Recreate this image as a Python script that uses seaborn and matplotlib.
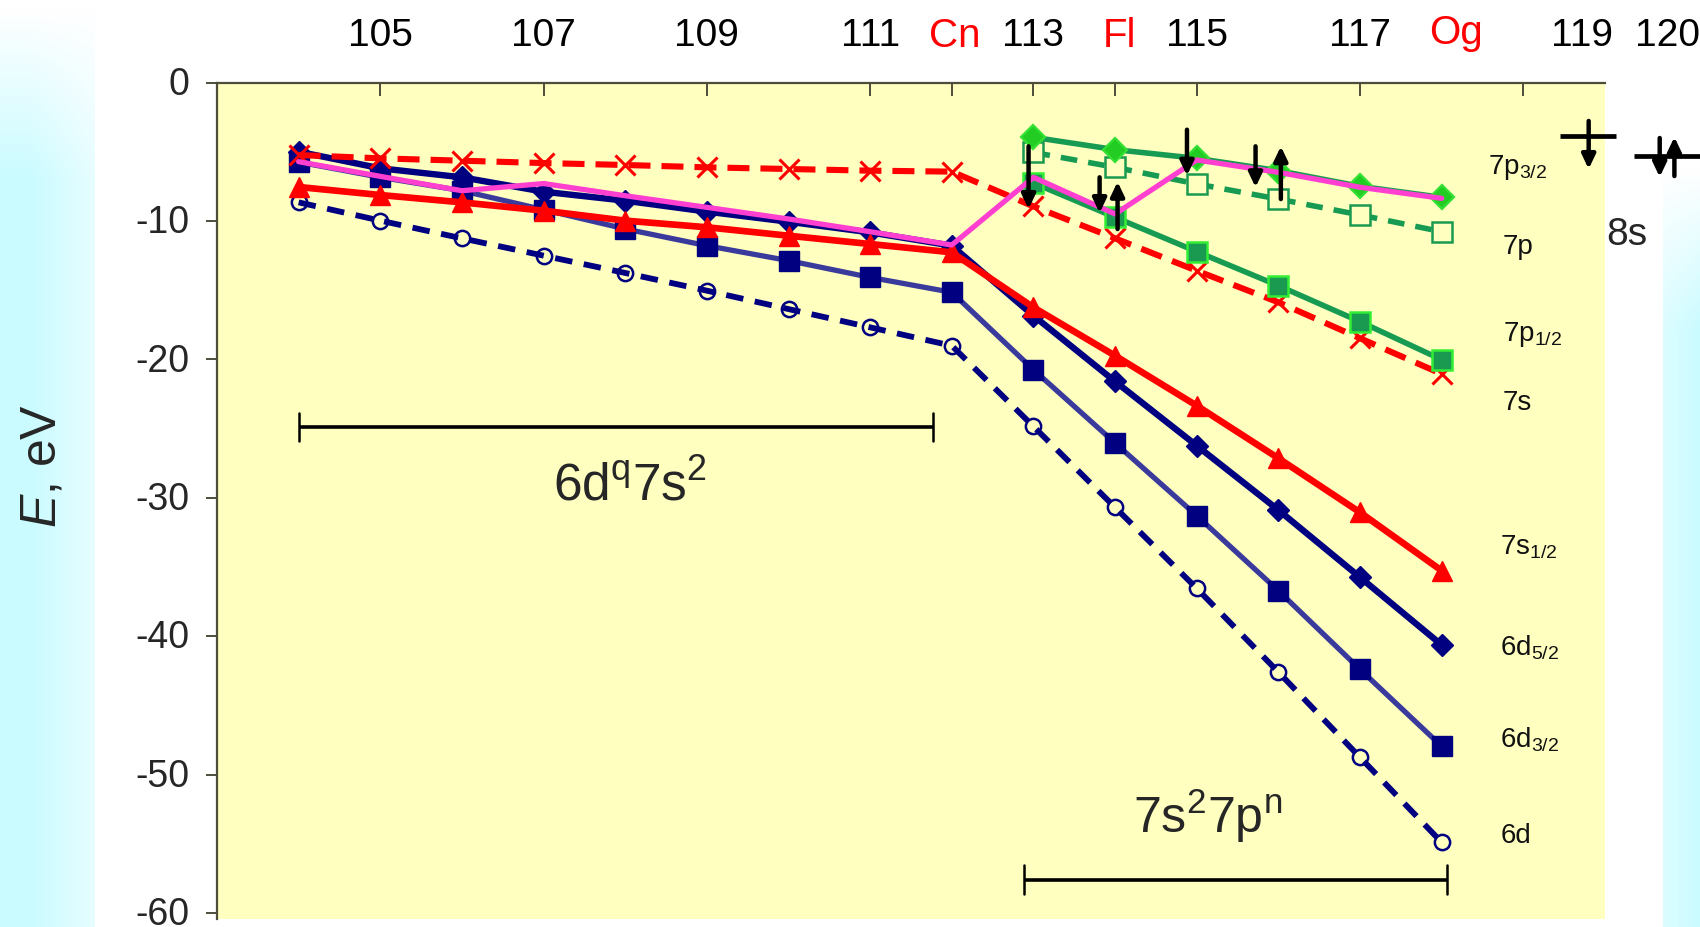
import numpy as np
import pandas as pd
import matplotlib
matplotlib.use("Agg")
import matplotlib.pyplot as plt
import seaborn as sns
from matplotlib.transforms import blended_transform_factory, ScaledTranslation

# ---- data: orbital energies (eV) of the superheavy elements ----
z_all = [104, 105, 106, 107, 108, 109, 110, 111, 112, 113, 114, 115, 116, 117, 118]
z_p = [113, 114, 115, 116, 117, 118]

e_7s = [-5.24, -5.48, -5.65, -5.82, -5.96, -6.13, -6.25, -6.37, -6.44,
        -8.95, -11.26, -13.6, -15.88, -18.48, -21.06]
e_7s12 = [-7.55, -8.13, -8.66, -9.26, -9.98, -10.46, -11.07, -11.67, -12.27,
          -16.25, -19.74, -23.35, -27.15, -31.06, -35.27]
e_6d52 = [-5.0, -6.2, -6.85, -7.89, -8.54, -9.33, -10.06, -10.83, -11.79,
          -16.85, -21.6, -26.24, -30.89, -35.75, -40.64]
e_6d32 = [-5.75, -6.85, -7.82, -9.19, -10.58, -11.79, -12.87, -14.08, -15.16,
          -20.75, -26.05, -31.3, -36.72, -42.4, -47.96]
e_6d = [-8.66, -9.98, -11.26, -12.51, -13.76, -15.04, -16.37, -17.69, -19.02,
        -24.85, -30.7, -36.55, -42.6, -48.76, -54.9]
e_7p32 = [-3.96, -4.85, -5.48, -6.37, -7.5, -8.3]
e_7p = [-5.05, -6.13, -7.33, -8.42, -9.57, -10.78]
e_7p12 = [-7.26, -9.74, -12.22, -14.68, -17.28, -20.03]
e_valence = [-5.72, -6.78, -7.82, -7.3, -8.18, -9.02, -9.86, -10.78, -11.74,
             -6.85, -9.5, -5.6, -6.49, -7.57, -8.37]

top_text = ["105", "107", "109", "111", "Cn", "113", "Fl", "115", "117", "Og", "119", "120"]
top_pos = [105, 107, 109, 111, 112.03, 113, 114.05, 115, 117, 118.17, 119.72, 120.76]
top_red = ["Cn", "Fl", "Og"]
x_ticks = [105, 107, 109, 111, 112, 113, 114, 115, 117, 119]
y_ticks = [0, -10, -20, -30, -40, -50, -60]

# ---- style ----
sns.set_style("ticks")
plt.rcParams["font.family"] = ["Liberation Sans", "DejaVu Sans"]
plt.rcParams["mathtext.fontset"] = "custom"
plt.rcParams["mathtext.rm"] = "Liberation Sans"
plt.rcParams["mathtext.it"] = "Liberation Sans:italic"
plt.rcParams["axes.unicode_minus"] = False

W, H = 1700, 928
fig = plt.figure(figsize=(W / 100, H / 100), dpi=100)
fig.patch.set_facecolor("white")

# slide background: pale cyan side strips
bg = fig.add_axes([0, 0, 1, 1], zorder=-10)
bg.axis("off")
img = np.ones((H, W, 3))
cyan = np.array([0.79, 0.985, 1.0])
yy = np.arange(H)[:, None]
xx = np.arange(W)[None, :]
left_h = np.clip((xx - 30) / 65.0, 0, 1) * 0.55          # lighter toward inner edge
left_v = np.clip((yy - 10) / 170.0, 0, 1)
left_mask = (xx < 95)
right_h = np.clip((1700 - xx) / 38.0, 0, 1) * 0.35
right_v = np.clip((yy - 170) / 160.0, 0, 1)
right_mask = (xx >= 1663)
for c in range(3):
    tint_l = 1 - (1 - cyan[c]) * (1 - left_h) * left_v
    tint_r = 1 - (1 - cyan[c]) * (1 - right_h) * right_v
    ch = np.ones((H, W))
    ch = np.where(left_mask, tint_l, ch)
    ch = np.where(right_mask, tint_r, ch)
    img[:, :, c] = ch
bg.imshow(img, extent=[0, 1, 0, 1], aspect="auto")
bg.set_xlim(0, 1)
bg.set_ylim(0, 1)

ax = fig.add_axes([217 / W, 1 - 919.5 / H, (1605 - 217) / W, (919.5 - 83.5) / H])
ax.set_facecolor("#ffffc0")

navy = "#000080"
red = "#ff0000"
green = "#179b52"

series = [
    dict(x=z_all, y=e_6d, color=navy, ls=(0, (3.0, 2.0)), lw=4.2, marker="o", ms=11,
         mfc="none", mec=navy, mew=1.8, z=3),
    dict(x=z_all, y=e_6d32, color="#3a3a9c", ls="-", lw=3.8, marker="s", ms=14,
         mfc=navy, mec=navy, mew=1.0, z=3),
    dict(x=z_all, y=e_6d52, color=navy, ls="-", lw=4.6, marker="D", ms=11.5,
         mfc=navy, mec=navy, mew=1.0, z=4),
    dict(x=z_all, y=e_7s12, color=red, ls="-", lw=4.8, marker="^", ms=15,
         mfc=red, mec=red, mew=1.0, z=5),
    dict(x=z_all, y=e_7s, color=red, ls=(0, (3.6, 1.8)), lw=4.4, marker="x", ms=15,
         mfc=red, mec=red, mew=2.2, z=5),
    dict(x=z_p, y=e_7p12, color=green, ls="-", lw=4.0, marker="s", ms=14,
         mfc="#1a9a50", mec="#33ee33", mew=1.8, z=6),
    dict(x=z_p, y=e_7p, color=green, ls=(0, (3, 2)), lw=4.0, marker="s", ms=15,
         mfc="#ffffc0", mec="#1a9a50", mew=1.8, z=6),
    dict(x=z_p, y=e_7p32, color=green, ls="-", lw=4.0, marker="D", ms=12,
         mfc="#22cc22", mec="#33e033", mew=1.6, z=6),
    dict(x=z_all, y=e_valence, color="#ff3fd0", ls="-", lw=3.8, marker=None, ms=0,
         mfc="none", mec="none", mew=0, z=8),
]

for s in series:
    sns.lineplot(x=s["x"], y=s["y"], ax=ax, color=s["color"], linestyle=s["ls"],
                 linewidth=s["lw"], marker=s["marker"], markersize=s["ms"],
                 markerfacecolor=s["mfc"], markeredgecolor=s["mec"],
                 markeredgewidth=s["mew"], zorder=s["z"], errorbar=None,
                 sort=False, legend=False)

ax.set_xlim(103, 120)
ax.set_ylim(-60.4, 0)

# axes frame
for side in ["right", "bottom"]:
    ax.spines[side].set_visible(False)
for side in ["left", "top"]:
    ax.spines[side].set_color("#4d4d3a")
    ax.spines[side].set_linewidth(1.6)

ax.xaxis.tick_top()
ax.set_xticks(x_ticks)
ax.set_xticklabels([""] * len(x_ticks))
ax.tick_params(axis="x", direction="in", length=9, width=1.4, color="#4d4d3a", top=True, bottom=False)
ax.set_yticks(y_ticks)
ax.set_yticklabels([str(v) for v in y_ticks])
ax.tick_params(axis="y", direction="out", length=8, width=1.4, color="#4d4d3a",
               labelsize=27, pad=12)
nudge = ScaledTranslation(0, 2 / 72, fig.dpi_scale_trans)
for lab in ax.get_yticklabels():
    lab.set_transform(lab.get_transform() + nudge)
ax.set_xlabel("")
ax.set_ylabel("")

# element labels above the frame
tr_top = blended_transform_factory(ax.transData, ax.transAxes)
for txt, xp in zip(top_text, top_pos):
    is_red = txt in top_red
    ax.text(xp, 1.057 if txt != "Og" else 1.061, txt, transform=tr_top, ha="center", va="center",
            fontsize=29 if is_red else 28, color=red if is_red else "black", clip_on=False)

fig.text(43 / W, 1 - 466 / H, r"$E$, eV", rotation=90, ha="center", va="center", fontsize=36)

# orbital names at the right end of each curve
orbital_labels = [
    (118.57, -6.1, r"7p$_{\mathregular{3/2}}$"),
    (118.75, -11.8, "7p"),
    (118.75, -18.1, r"7p$_{\mathregular{1/2}}$"),
    (118.75, -23.1, "7s"),
    (118.72, -33.5, r"7s$_{\mathregular{1/2}}$"),
    (118.72, -40.8, r"6d$_{\mathregular{5/2}}$"),
    (118.72, -47.4, r"6d$_{\mathregular{3/2}}$"),
    (118.72, -54.4, "6d"),
]
for xp, yp, txt in orbital_labels:
    ax.text(xp, yp, txt, ha="left", va="center", fontsize=20, color="#111111", zorder=9)

ax.text(120.27, -10.95, "8s", ha="center", va="center", fontsize=28, clip_on=False)

# configuration brackets
ax.text(108.06, -29.1, r"6d$^{\mathregular{q}}$7s$^{\mathregular{2}}$", ha="center", va="center",
        fontsize=37)
ax.text(115.13, -52.9, r"7s$^{\mathregular{2}}$7p$^{\mathregular{n}}$", ha="center", va="center",
        fontsize=36)
for x0, x1, yb, half in [(104.0, 111.77, -24.9, 1.0), (112.88, 118.07, -57.6, 1.05)]:
    ax.plot([x0, x1], [yb, yb], color="black", lw=2.6, zorder=7, solid_capstyle="butt")
    ax.plot([x0, x0], [yb - half, yb + half], color="black", lw=1.8, zorder=7)
    ax.plot([x1, x1], [yb - half, yb + half], color="black", lw=1.8, zorder=7)

# electron spins on the open shells
spins = [
    (112.94, -4.61, -9.14),
    (113.81, -6.85, -9.43),
    (114.03, -10.59, -7.17),
    (114.88, -3.41, -6.73),
    (115.72, -4.61, -7.57),
    (116.03, -8.42, -4.61),
    (119.80, -2.78, -6.25),
    (120.67, -4.01, -6.83),
    (120.85, -6.76, -3.94),
]
for xs, y0, y1 in spins:
    ax.annotate("", xy=(xs, y1), xytext=(xs, y0), annotation_clip=False,
                arrowprops=dict(arrowstyle="-|>,head_length=0.42,head_width=0.2",
                                mutation_scale=20, lw=3.2, color="black",
                                shrinkA=0, shrinkB=0), zorder=10)

# 8s levels of elements 119 and 120
for x0, x1, yl in [(119.45, 120.13, -3.87), (120.36, 121.18, -5.31)]:
    ax.plot([x0, x1], [yl, yl], color="black", lw=3.4, clip_on=False, zorder=10,
            solid_capstyle="butt")

fig.savefig("out.png", dpi=100, facecolor=fig.get_facecolor())
